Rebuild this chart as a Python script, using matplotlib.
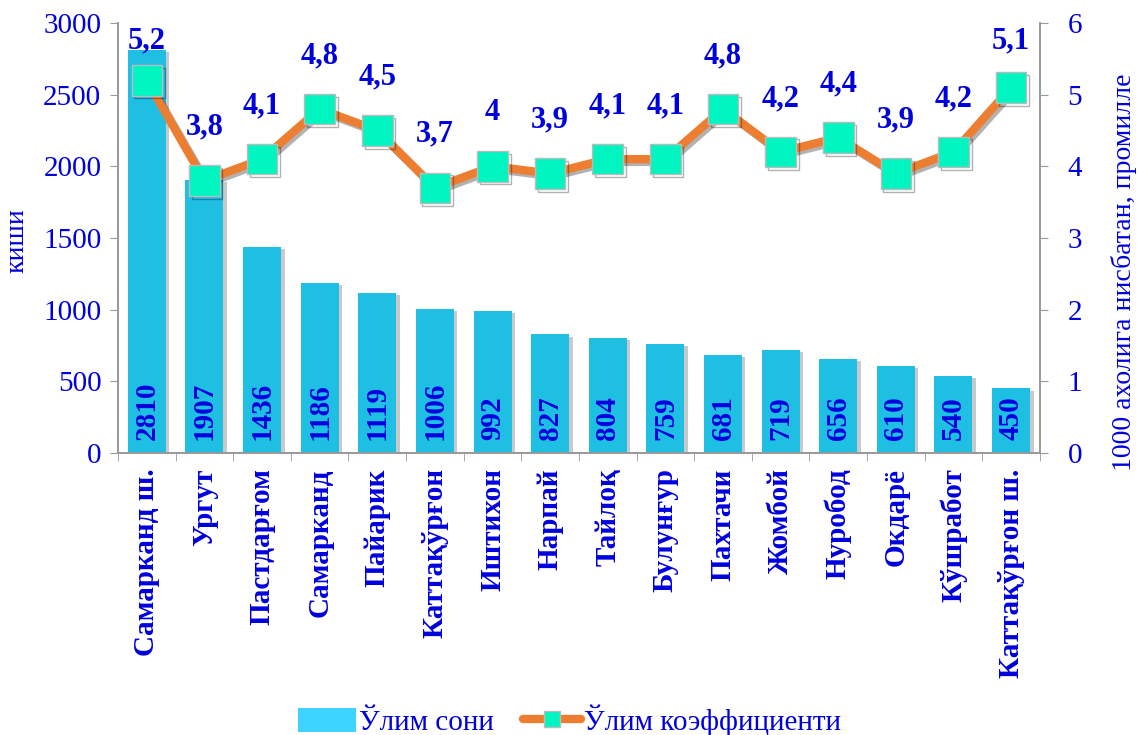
import matplotlib
matplotlib.use("Agg")
import matplotlib.pyplot as plt
import matplotlib.patheffects as pe
from matplotlib.patches import Patch
from matplotlib.lines import Line2D
import numpy as np

categories = ["Самарканд ш.", "Ургут", "Пастдарғом", "Самарканд", "Пайарик",
              "Каттақўрғон", "Иштихон", "Нарпай", "Тайлоқ", "Булунғур",
              "Пахтачи", "Жомбой", "Нуробод", "Окдарё", "Кўшработ", "Каттақўрғон ш."]
deaths = [2810, 1907, 1436, 1186, 1119, 1006, 992, 827, 804, 759, 681, 719, 656, 610, 540, 450]
rate = [5.2, 3.8, 4.1, 4.8, 4.5, 3.7, 4.0, 3.9, 4.1, 4.1, 4.8, 4.2, 4.4, 3.9, 4.2, 5.1]
rate_labels = ["5,2", "3,8", "4,1", "4,8", "4,5", "3,7", "4", "3,9", "4,1", "4,1",
               "4,8", "4,2", "4,4", "3,9", "4,2", "5,1"]
left_ticks = [0, 500, 1000, 1500, 2000, 2500, 3000]
right_ticks = [0, 1, 2, 3, 4, 5, 6]

plt.rcParams['font.family'] = ['Liberation Serif', 'DejaVu Serif']
BLUE = "#0000DD"
BAR = "#1FBFE4"
ORANGE = "#ED7D31"
MARK = "#00F5C0"
GREY = "#999999"

fig = plt.figure(figsize=(11.39, 7.35), dpi=100)
ax = fig.add_axes([0.1036, 0.3837, 0.8094, 0.585])
ax2 = ax.twinx()

x = np.arange(len(categories))
ax.bar(x, deaths, width=0.66, color=BAR, zorder=2,
       path_effects=[pe.SimplePatchShadow(offset=(2.5, -1.5), shadow_rgbFace='#888888', alpha=0.45), pe.Normal()])
ax.set_xlim(-0.5, len(categories) - 0.5)
ax.set_ylim(0, 3000)
ax.set_yticks(left_ticks)
ax.set_yticklabels([str(t) for t in left_ticks], fontsize=21, color=BLUE)
ax.set_ylabel("киши", fontsize=20, color=BLUE)
ax.yaxis.set_label_coords(-0.0965, 0.495)

for xi, v in zip(x, deaths):
    ax.text(xi, 90, str(v), rotation=90, ha='center', va='bottom',
            fontsize=21, fontweight='bold', color=BLUE, zorder=3)

ax.set_xticks(x)
ax.set_xticklabels(categories, rotation=90, fontsize=21, fontweight='bold', color=BLUE)
ax.set_xticks(np.arange(-0.5, len(categories)), minor=True)
ax.tick_params(axis='x', which='major', length=0, pad=11)
ax.tick_params(axis='x', which='minor', length=6, color=GREY)
ax.tick_params(axis='y', length=6, color=GREY, pad=6)

for a in (ax, ax2):
    a.spines['top'].set_visible(False)
    for s in ('left', 'right', 'bottom'):
        a.spines[s].set_color(GREY)
        a.spines[s].set_linewidth(1.2)

ax2.plot(x, rate, color=ORANGE, lw=6, marker='s', markersize=22,
         markerfacecolor=MARK, markeredgecolor='#BBBBBB', markeredgewidth=1, zorder=4,
         path_effects=[pe.SimpleLineShadow(offset=(2, -2), alpha=0.3), pe.Normal()])
ax2.set_ylim(0, 6)
ax2.set_yticks(right_ticks)
ax2.set_yticklabels([str(t) for t in right_ticks], fontsize=21, color=BLUE)
ax2.tick_params(axis='y', length=6, color=GREY, pad=14)
ax2.set_ylabel("1000 ахолига нисбатан, промилле", fontsize=20, color=BLUE)
ax2.yaxis.set_label_coords(1.077, 0.421)

ax_h_px = 0.585 * 735
for xi, v, lab in zip(x, rate, rate_labels):
    off_px = min(46, (6 - v) / 6 * ax_h_px - 25)
    ax2.annotate(lab, (xi, v), xytext=(0, off_px * 0.72), textcoords='offset points',
                 ha='center', va='baseline', fontsize=22, fontweight='bold', color=BLUE)

handles = [Patch(facecolor="#3DD5FF", edgecolor='none'),
           Line2D([], [], color=ORANGE, lw=6, marker='s', markersize=12,
                  markerfacecolor=MARK, markeredgecolor='#BBBBBB', solid_capstyle='round')]
fig.legend(handles, ["Ўлим сони", "Ўлим коэффициенти"], loc='lower center',
           bbox_to_anchor=(0.5, -0.037), ncol=2, frameon=False, fontsize=21,
           labelcolor=BLUE, handlelength=2.0, handleheight=0.9, columnspacing=1.0, handletextpad=0.1)

fig.savefig("out.png", dpi=100)
